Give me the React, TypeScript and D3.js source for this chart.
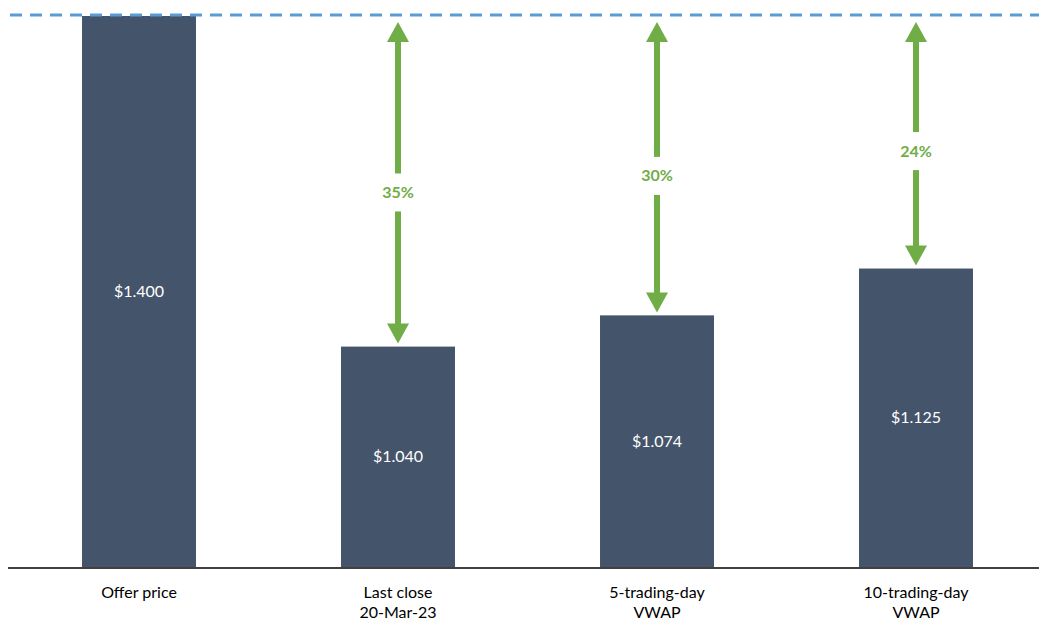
import React from "react";
import * as d3 from "d3";

const categories: string[][] = [["Offer price"], ["Last close", "20-Mar-23"], ["5-trading-day", "VWAP"], ["10-trading-day", "VWAP"]];
const values: number[] = [1.4, 1.04, 1.074, 1.125];
const valueLabels: string[] = ["$1.400", "$1.040", "$1.074", "$1.125"];
const offerPrice = 1.4;

const W = 1039, H = 623;
const FONT = "Lato, 'Open Sans', sans-serif";

export default function App() {
  const x = d3.scaleBand<number>().domain(d3.range(values.length)).range([9.5, 1045.5]).paddingInner(0.56).paddingOuter(0.28);
  const y = d3.scaleLinear().domain([0.8, 1.4]).range([567, 16]);
  const base = y(0.8);
  const topY = y(offerPrice);
  const green = "#70ad47";
  return (
    <svg width={W} height={H} style={{ position: "absolute", left: 0, top: 0, background: "#fff" }} fontFamily={FONT}>
      {values.map((v, i) => (
        <g key={i}>
          <rect x={x(i)} y={y(v)} width={x.bandwidth()} height={base - y(v)} fill="#44546a" />
          <text x={(x(i) as number) + x.bandwidth() / 2} y={(y(v) + base) / 2} dy="0.35em" textAnchor="middle" fill="#fff" fontSize={16}>{valueLabels[i]}</text>
          {categories[i].map((c, j) => (
            <text key={j} x={(x(i) as number) + x.bandwidth() / 2} y={592 + j * 20} dy="0.35em" textAnchor="middle" fill="#000" fontSize={16}>{c}</text>
          ))}
        </g>
      ))}
      <line x1={8} x2={W} y1={base + 1} y2={base + 1} stroke="#000" strokeWidth={1.5} />
      <line x1={10} x2={W} y1={topY - 1} y2={topY - 1} stroke="#5b9bd5" strokeWidth={3} strokeDasharray="12 8" />
      {values.map((v, i) => {
        if (i === 0) return null;
        const cx = (x(i) as number) + x.bandwidth() / 2;
        const t = topY + 6;
        const b = y(v) - 3;
        const ly = t + (b - t) * 0.53;
        const pct = Math.round((offerPrice / v - 1) * 100) + "%";
        const ah = 20, aw = 11;
        return (
          <g key={"a" + i}>
            <line x1={cx} x2={cx} y1={t + ah - 1} y2={ly - 19} stroke={green} strokeWidth={6} />
            <line x1={cx} x2={cx} y1={ly + 19} y2={b - ah + 1} stroke={green} strokeWidth={6} />
            <path d={`M${cx},${t} L${cx - aw},${t + ah} L${cx + aw},${t + ah} Z`} fill={green} />
            <path d={`M${cx},${b} L${cx - aw},${b - ah} L${cx + aw},${b - ah} Z`} fill={green} />
            <text x={cx} y={ly} dy="0.35em" textAnchor="middle" fill={green} fontSize={16} fontWeight="bold">{pct}</text>
          </g>
        );
      })}
    </svg>
  );
}
